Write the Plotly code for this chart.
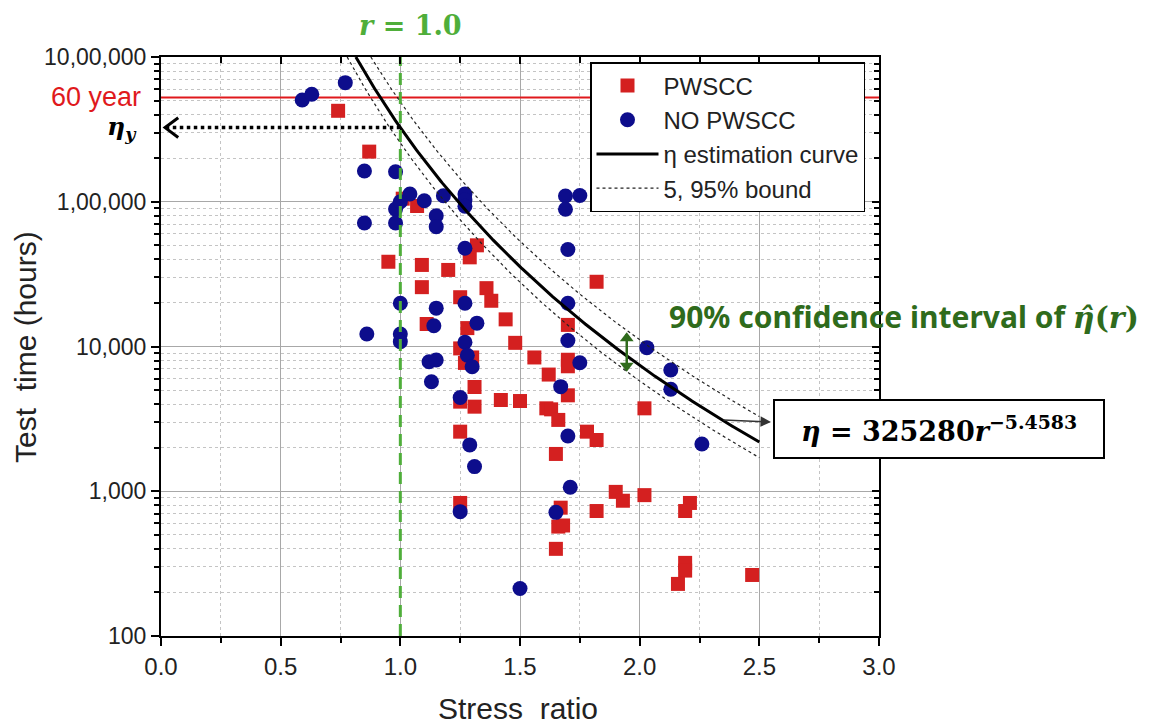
import numpy as np
import plotly.graph_objects as go

# ---------------- data ----------------
pwscc_x = [0.74, 0.87, 1.01, 1.07, 1.32, 1.29, 0.95, 1.09, 1.20, 1.09, 1.36, 1.38, 1.25,
           1.44, 1.11, 1.28, 1.48, 1.70, 1.25, 1.30, 1.27, 1.56, 1.62, 1.70, 1.70, 1.70,
           1.31, 1.25, 1.31, 1.42, 1.50, 1.61, 1.63, 1.66, 2.02, 1.82, 1.78, 1.82, 1.65,
           1.90, 1.93, 2.02, 1.82, 2.21, 2.19, 1.67, 1.66, 1.68, 1.65, 2.19, 2.19, 2.16,
           2.47, 1.25, 1.25]
pwscc_y = [425000, 222000, 105000, 93500, 50000, 41300, 38500, 36600, 33800, 25700, 25300,
           20700, 21900, 15400, 14300, 13400, 10600, 14100, 9700, 8400, 7700, 8400, 6400,
           8100, 7300, 4600, 5250, 4160, 3840, 4270, 4200, 3740, 3680, 3110, 3740, 28000,
           2580, 2260, 1810, 990, 860, 940, 730, 830, 730, 770, 570, 580, 400, 320, 283,
           229, 264, 2580, 830]

nopw_x = [0.59, 0.63, 0.77, 0.85, 0.98, 1.04, 1.10, 1.18, 1.27, 1.27, 1.27, 0.98, 1.00,
          0.85, 0.98, 1.15, 1.15, 1.69, 1.69, 1.75, 1.27, 1.70, 1.00, 1.15, 1.27, 1.70,
          1.14, 1.32, 0.86, 1.00, 1.00, 1.27, 1.70, 1.28, 1.30, 1.12, 1.15, 1.13, 1.75,
          1.67, 1.25, 2.03, 2.13, 2.13, 1.70, 2.26, 1.29, 1.31, 1.71, 1.25, 1.65, 1.50]
nopw_y = [505000, 553000, 665000, 163000, 161000, 113000, 101700, 110000, 113000, 103000,
          93000, 89000, 100000, 71300, 71300, 80100, 67300, 109600, 88700, 110500, 47700,
          46800, 19900, 18400, 19900, 19900, 13900, 14500, 12200, 12200, 10800, 10700,
          11000, 8700, 7250, 7850, 8070, 5710, 7730, 5280, 4440, 9820, 6880, 5060, 2410,
          2120, 2090, 1480, 1065, 723, 715, 213]

# fitted curve printed on the chart: eta = A * r^(-B)
A_COEF = 325280
B_EXP = 5.4583
UPPER_FACTOR = 1.5     # 95% bound
LOWER_FACTOR = 0.78    # 5% bound
R_END = 2.5
R_REF = 1.0
SIXTY_YEARS_H = 525600
R_CI = 1.946           # where the 90% CI arrow is drawn

x_tickvals = [0, 0.5, 1.0, 1.5, 2.0, 2.5, 3.0]
x_ticktext = ["0.0", "0.5", "1.0", "1.5", "2.0", "2.5", "3.0"]
y_tickvals = [100, 1000, 10000, 100000, 1000000]
y_ticktext = ["100", "1,000", "10,000", "1,00,000", "10,00,000"]

# ---------------- styling ----------------
SANS = "Liberation Sans, Arial, sans-serif"
SERIF = "DejaVu Serif, Liberation Serif, serif"
RED = "#d42020"
BLUE = "#0d0d8c"
GREEN = "#4fae3a"
DGREEN = "#2f6b1c"

def curve(factor):
    r0 = (A_COEF * factor / 1e6) ** (1 / B_EXP)
    r = np.linspace(r0, R_END, 300)
    return r, A_COEF * factor * r ** (-B_EXP)

fig = go.Figure()

# 60 year line
fig.add_trace(go.Scatter(x=[0, 3], y=[SIXTY_YEARS_H] * 2, mode="lines",
                         line=dict(color="#e0191c", width=2), showlegend=False,
                         hoverinfo="skip"))

fig.add_trace(go.Scatter(x=pwscc_x, y=pwscc_y, mode="markers", name="PWSCC",
                         marker=dict(symbol="square", size=14, color=RED),
                         legendrank=1))
fig.add_trace(go.Scatter(x=nopw_x, y=nopw_y, mode="markers", name="NO PWSCC",
                         marker=dict(symbol="circle", size=15, color=BLUE),
                         legendrank=2))

ru, yu = curve(UPPER_FACTOR)
rl, yl = curve(LOWER_FACTOR)
rc, yc = curve(1.0)
fig.add_trace(go.Scatter(x=ru, y=yu, mode="lines", name="5, 95% bound",
                         line=dict(color="#222", width=1.2, dash="3px,3px"),
                         legendrank=4))
fig.add_trace(go.Scatter(x=rl, y=yl, mode="lines", showlegend=False,
                         line=dict(color="#222", width=1.2, dash="3px,3px")))
fig.add_trace(go.Scatter(x=rc, y=yc, mode="lines", name="η estimation curve",
                         line=dict(color="black", width=3), legendrank=3))

# r = 1.0 green dashed line
fig.add_trace(go.Scatter(x=[R_REF, R_REF], y=[100, 1e6], mode="lines", showlegend=False,
                         line=dict(color=GREEN, width=3, dash="12px,7px")))

# eta_y dotted arrow
eta_y = A_COEF * R_REF ** (-B_EXP)
fig.add_trace(go.Scatter(x=[0.02, R_REF], y=[eta_y, eta_y], mode="lines", showlegend=False,
                         line=dict(color="black", width=3.5, dash="dot")))
fig.add_trace(go.Scatter(x=[0.072, 0.017, 0.072], y=[eta_y * 1.17, eta_y, eta_y / 1.17],
                         mode="lines", showlegend=False,
                         line=dict(color="black", width=3)))

# green double arrow for the CI
eta_ci = A_COEF * R_CI ** (-B_EXP)
fig.add_trace(go.Scatter(x=[R_CI, R_CI], y=[eta_ci * 1.42, eta_ci * 0.80], mode="lines",
                         showlegend=False, line=dict(color=DGREEN, width=2.5)))
fig.add_trace(go.Scatter(x=[R_CI, R_CI], y=[eta_ci * 1.42 / 1.07, eta_ci * 0.80 * 1.07],
                         mode="markers", showlegend=False,
                         marker=dict(symbol=["triangle-up", "triangle-down"], size=12,
                                     color=DGREEN)))

# invisible trace carrying the top / right frame axes (inward ticks)
fig.add_trace(go.Scatter(x=[None], y=[None], xaxis="x2", yaxis="y2", showlegend=False,
                         hoverinfo="skip"))

# ---------------- layout ----------------
OFF = 8                      # default page body margin
W, H = 1146, 716
L, T = 161 - OFF, 57 - OFF   # plot area in page pixels: x 161..879, y 57..636
R = W - (879 - OFF)
B = H - (636 - OFF)
pw, ph = W - L - R, H - T - B

def px(page_x):
    return (page_x - OFF - L) / pw

def py(page_y):
    return (H - B - (page_y - OFF)) / ph

annotations = [
    dict(x=px(518), y=py(708), text="Stress  ratio",
         font=dict(family=SANS, size=30, color="#222")),
    dict(x=px(26), y=py(347), text="Test  time (hours)", textangle=-90,
         font=dict(family=SANS, size=30, color="#222")),
    dict(x=px(143), y=py(97), text="60 year", xanchor="right",
         font=dict(family=SANS, size=27, color="#e0191c")),
    dict(x=px(139), y=py(128), text="<b><i>η<sub>y</sub></i></b>", xanchor="right",
         font=dict(family=SERIF, size=25, color="black")),
    dict(x=px(410), y=py(25), text="<b><i>r</i> = 1.0</b>",
         font=dict(family=SERIF, size=27, color=GREEN)),
    dict(x=px(904), y=py(316),
         text="<b>90% confidence interval of </b>"
              "<span style='font-family:DejaVu Serif'><b><i>η̂</i>(<i>r</i>)</b></span>",
         font=dict(family="Noto Sans, sans-serif", size=30, color=DGREEN)),
    dict(x=px(939), y=py(429),
         text="<b><i>η</i> = 325280<i>r</i><sup>−5.4583</sup></b>",
         font=dict(family=SERIF, size=27, color="black"),
         bordercolor="black", borderwidth=2, bgcolor="white", width=326, height=54),
    dict(x=px(771), y=py(422), ax=-49, ay=-2, text="", showarrow=True,
         arrowhead=2, arrowsize=1.4, arrowwidth=1.5, arrowcolor="#333"),
]
for a in annotations:
    a.setdefault("xref", "paper")
    a.setdefault("yref", "paper")
    a.setdefault("showarrow", False)
    a.setdefault("xanchor", "center")
    a.setdefault("yanchor", "middle")

fig.update_layout(
    width=W, height=H, autosize=False,
    margin=dict(l=L, r=R, t=T, b=B),
    paper_bgcolor="white", plot_bgcolor="white",
    showlegend=True,
    legend=dict(x=px(590), y=py(62), xanchor="left", yanchor="top",
                bgcolor="white", bordercolor="black", borderwidth=1.5,
                font=dict(family=SANS, size=24, color="#222"),
                itemwidth=62, tracegroupgap=0),
    annotations=annotations,
    xaxis=dict(range=[0, 3], tickvals=x_tickvals, ticktext=x_ticktext,
               ticks="outside", ticklen=8, tickwidth=2, tickcolor="black",
               showline=True, linecolor="black", linewidth=2, mirror=True,
               showgrid=True, gridcolor="#a8a8a8", gridwidth=1, zeroline=False,
               tickfont=dict(family=SANS, size=24, color="#222"),
               minor=dict(tick0=0, dtick=0.25, ticks="outside", ticklen=5,
                          tickwidth=1.5, tickcolor="black", showgrid=True,
                          gridcolor="#c4c4c4", griddash="dot", gridwidth=1)),
    yaxis=dict(type="log", range=[2, 6], tickvals=y_tickvals, ticktext=y_ticktext,
               ticks="outside", ticklen=8, tickwidth=2, tickcolor="black",
               showline=True, linecolor="black", linewidth=2, mirror=True,
               showgrid=True, gridcolor="#a8a8a8", gridwidth=1, zeroline=False,
               tickfont=dict(family=SANS, size=23, color="#222"),
               minor=dict(dtick="D1", ticks="outside", ticklen=5, tickwidth=1.5,
                          tickcolor="black", showgrid=True, gridcolor="#c4c4c4",
                          griddash="dot", gridwidth=1)),
    xaxis2=dict(range=[0, 3], overlaying="x", side="top", anchor="y",
                tickvals=x_tickvals, showticklabels=False, ticks="inside",
                ticklen=7, tickwidth=2, tickcolor="black", showgrid=False,
                zeroline=False, showline=False,
                minor=dict(tick0=0, dtick=0.25, ticks="inside", ticklen=6,
                           tickwidth=1.5, tickcolor="black", showgrid=False)),
    yaxis2=dict(type="log", range=[2, 6], overlaying="y", side="right", anchor="x",
                tickvals=y_tickvals, showticklabels=False, ticks="inside",
                ticklen=7, tickwidth=2, tickcolor="black", showgrid=False,
                zeroline=False, showline=False,
                minor=dict(dtick="D1", ticks="inside", ticklen=5, tickwidth=1.5,
                           tickcolor="black", showgrid=False)),
)

fig.write_html("out.html")
